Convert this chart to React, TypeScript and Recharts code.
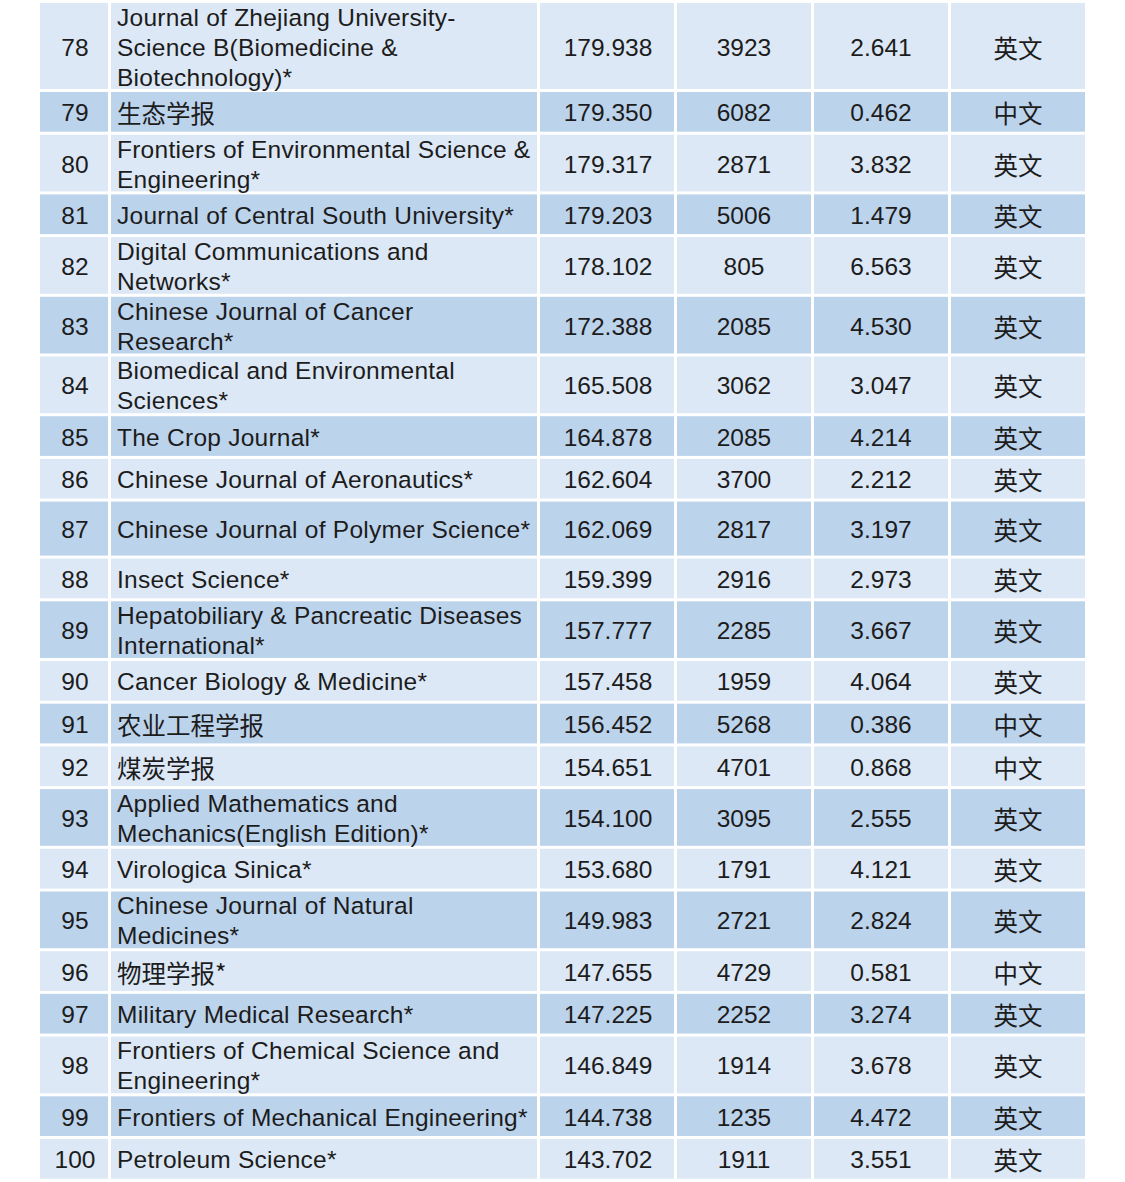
import { Bar, BarChart, XAxis, YAxis } from "recharts";

const ranks = [78, 79, 80, 81, 82, 83, 84, 85, 86, 87, 88, 89, 90, 91, 92, 93, 94, 95, 96, 97, 98, 99, 100];

const names: string[][] = [
  ["Journal of Zhejiang University-", "Science B(Biomedicine &", "Biotechnology)*"],
  ["生态学报"],
  ["Frontiers of Environmental Science &", "Engineering*"],
  ["Journal of Central South University*"],
  ["Digital Communications and", "Networks*"],
  ["Chinese Journal of Cancer", "Research*"],
  ["Biomedical and Environmental", "Sciences*"],
  ["The Crop Journal*"],
  ["Chinese Journal of Aeronautics*"],
  ["Chinese Journal of Polymer Science*"],
  ["Insect Science*"],
  ["Hepatobiliary & Pancreatic Diseases", "International*"],
  ["Cancer Biology & Medicine*"],
  ["农业工程学报"],
  ["煤炭学报"],
  ["Applied Mathematics and", "Mechanics(English Edition)*"],
  ["Virologica Sinica*"],
  ["Chinese Journal of Natural", "Medicines*"],
  ["物理学报*"],
  ["Military Medical Research*"],
  ["Frontiers of Chemical Science and", "Engineering*"],
  ["Frontiers of Mechanical Engineering*"],
  ["Petroleum Science*"],
];

const scores = [
  179.938, 179.35, 179.317, 179.203, 178.102, 172.388, 165.508, 164.878, 162.604, 162.069, 159.399, 157.777,
  157.458, 156.452, 154.651, 154.1, 153.68, 149.983, 147.655, 147.225, 146.849, 144.738, 143.702,
];

const citations = [
  3923, 6082, 2871, 5006, 805, 2085, 3062, 2085, 3700, 2817, 2916, 2285, 1959, 5268, 4701, 3095, 1791, 2721, 4729,
  2252, 1914, 1235, 1911,
];

const impacts = [
  2.641, 0.462, 3.832, 1.479, 6.563, 4.53, 3.047, 4.214, 2.212, 3.197, 2.973, 3.667, 4.064, 0.386, 0.868, 2.555,
  4.121, 2.824, 0.581, 3.274, 3.678, 4.472, 3.551,
];

const langs = [
  "英文", "中文", "英文", "英文", "英文", "英文", "英文", "英文", "英文", "英文", "英文", "英文",
  "英文", "中文", "中文", "英文", "英文", "英文", "中文", "英文", "英文", "英文", "英文",
];

const W = 1125;
const H = 1182;
const LIGHT = "#dce8f5";
const DARK = "#bcd3ec";
const INK = "#1c1c1c";
const LATIN = "'Liberation Sans', Arial, sans-serif";
const CJK = "'Noto Sans CJK SC', sans-serif";
const FS = 24.5;
const GAP = 3;
const LINE = 30;
// cell widths (rank, name, score, citations, IF, language); 3px white gap between
const COLS = [68, 426, 134, 134, 134, 134];

// row pitch follows the number of text lines; row 87 is drawn taller in the source
const pitch = (i: number) => {
  if (ranks[i] === 87) return 57;
  const n = names[i].length;
  return n === 1 ? 42.7 : n === 2 ? 59.7 : 89;
};

const heights = ranks.map((_, i) => pitch(i));
const total = heights.reduce((a, b) => a + b, 0);
const row: Record<string, string | number> = { table: "rows" };
heights.forEach((h, i) => (row[`r${i}`] = h));
const data = [row];

const hasCjk = (s: string) => /[\u4e00-\u9fff]/.test(s);

function rowShape(i: number) {
  return (props: any) => {
    const top = Math.min(props.y, props.y + props.height);
    const h = Math.abs(props.height) - GAP;
    const fill = i % 2 === 0 ? LIGHT : DARK;
    const cy = top + h / 2 + 1;
    let cx = props.x;
    const cells = COLS.map((w) => {
      const c = { x: cx, w };
      cx += w + GAP;
      return c;
    });
    const center = (k: number, s: string, dx = 0) => (
      <text
        x={cells[k].x + cells[k].w / 2 + dx}
        y={cy}
        textAnchor="middle"
        dominantBaseline="central"
        fontSize={FS}
        fontFamily={hasCjk(s) ? CJK : LATIN}
        fill={INK}
      >
        {s}
      </text>
    );
    const lines = names[i];
    return (
      <g>
        {cells.map((c, k) => (
          <rect key={k} x={c.x} y={top} width={c.w} height={h} fill={fill} />
        ))}
        {center(0, String(ranks[i]), 1)}
        <text fontSize={FS} fill={INK}>
          {lines.map((s, j) => (
            <tspan
              key={j}
              x={cells[1].x + 6}
              y={cy + (j - (lines.length - 1) / 2) * LINE}
              dominantBaseline="central"
              fontFamily={hasCjk(s) ? CJK : LATIN}
              letterSpacing={hasCjk(s) ? 0 : 0.25}
            >
              {s}
            </tspan>
          ))}
        </text>
        {center(2, scores[i].toFixed(3), 1)}
        {center(3, String(citations[i]))}
        {center(4, impacts[i].toFixed(3))}
        {center(5, langs[i])}
      </g>
    );
  };
}

export default function App() {
  const marginTop = 3;
  return (
    <div style={{ position: "absolute", left: 0, top: 0, width: W, height: H, background: "#fff" }}>
      <BarChart
        width={W}
        height={H}
        data={data}
        margin={{ top: marginTop, right: 40, bottom: H - marginTop - total, left: 40 }}
        barCategoryGap={0}
        barGap={0}
      >
        <XAxis dataKey="table" hide />
        <YAxis type="number" domain={[0, total]} reversed hide />
        {ranks.map((r, i) => (
          <Bar
            key={r}
            dataKey={`r${i}`}
            stackId="rows"
            shape={rowShape(i)}
            isAnimationActive={false}
          />
        ))}
      </BarChart>
    </div>
  );
}
